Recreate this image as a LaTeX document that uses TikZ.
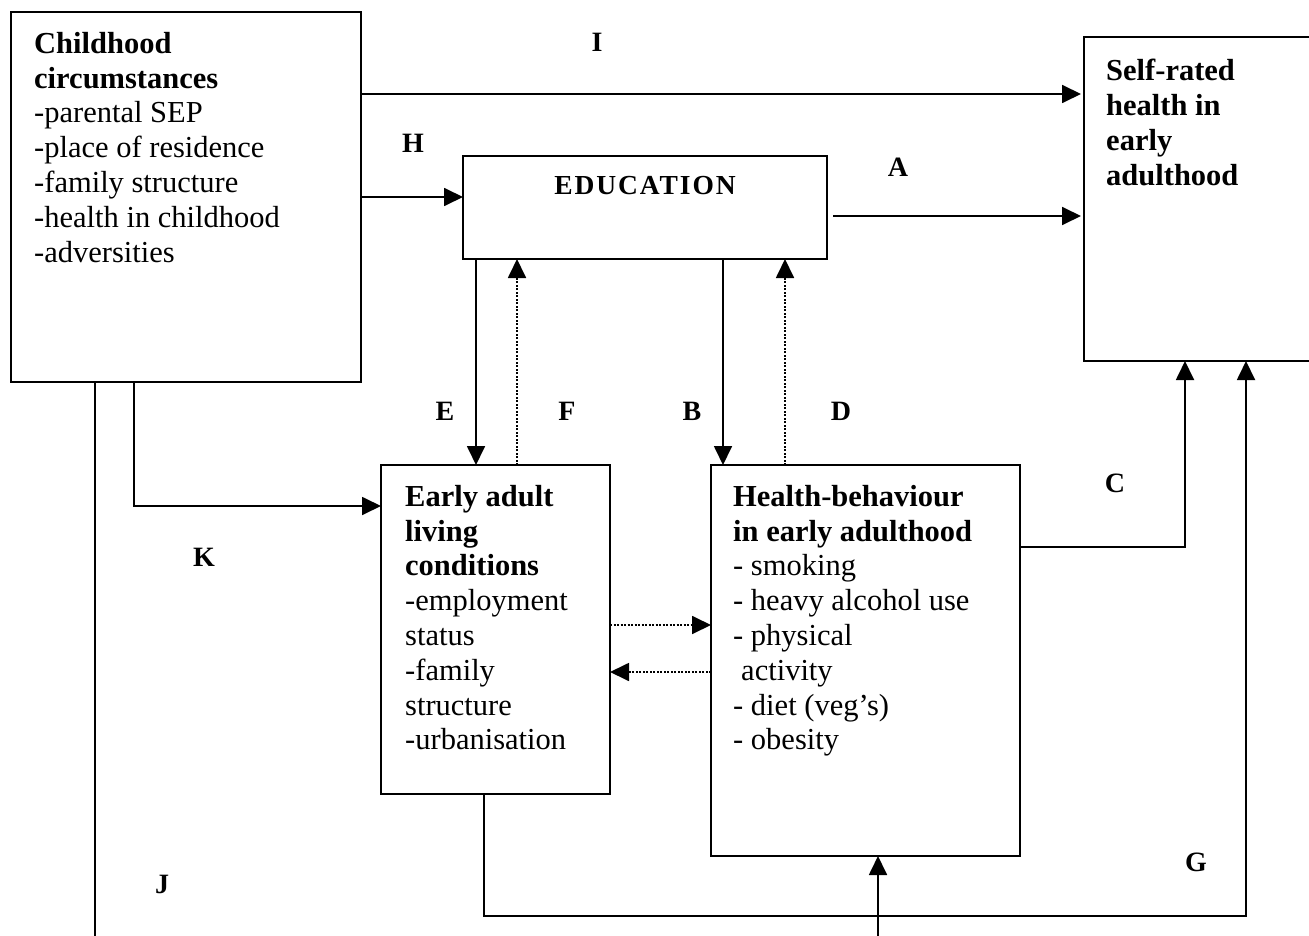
\documentclass[tikz,border=0pt]{standalone}
\usepackage{fontspec}
\setmainfont{Liberation Serif}
\newfontfamily\edufont{Liberation Serif}[LetterSpace=7]
\usetikzlibrary{arrows.meta}
\begin{document}
\begin{tikzpicture}[x=1pt,y=-1pt,
  every node/.style={font=\fontsize{30.5}{34.8}\selectfont},
  box/.style={draw, line width=1.8pt, anchor=north west, inner sep=0pt, outer sep=0pt},
  txt/.style={anchor=north west, align=left, inner sep=0pt},
  lbl/.style={inner sep=0pt, font=\fontsize{28}{30}\selectfont\bfseries},
  arr/.style={line width=1.8pt, -{Triangle[length=19pt,width=18pt]}},
  dotarr/.style={line width=1.8pt, dash pattern=on 2pt off 1.5pt, -{Triangle[length=19pt,width=18pt]}},
  plain/.style={line width=1.8pt}]
\useasboundingbox (0,0) rectangle (1309,936);
\fill[white] (0,0) rectangle (1309,936);
% boxes
\node[box, minimum width=350pt, minimum height=370pt] (child) at (11,12) {};
\node[box, minimum width=364pt, minimum height=103pt] (edu) at (463,156) {};
\node[box, minimum width=240pt, minimum height=324pt] (self) at (1084,37) {};
\node[box, minimum width=229pt, minimum height=329pt] (early) at (381,465) {};
\node[box, minimum width=309pt, minimum height=391pt] (health) at (711,465) {};
% texts
\node[txt] (childtxt) at (34,32) {\textbf{Childhood}\\\textbf{circumstances}\\-parental SEP\\-place of residence\\-family structure\\-health in childhood\\-adversities};
\node[inner sep=0pt, font=\fontsize{27.5}{30}\selectfont\bfseries\edufont] (edutxt) at (645,186) {EDUCATION};
\node[txt] (selftxt) at (1106,59) {\textbf{Self-rated}\\\textbf{health in}\\\textbf{early}\\\textbf{adulthood}};
\node[txt] (earlytxt) at (405,485) {\textbf{Early adult}\\\textbf{living}\\\textbf{conditions}\\-employment\\status\\-family\\structure\\-urbanisation};
\node[txt] (healthtxt) at (733,485) {\textbf{Health-behaviour}\\\textbf{in early adulthood}\\- smoking\\- heavy alcohol use\\- physical\\\hspace*{8pt}activity\\- diet (veg's)\\- obesity};
% labels
\node[lbl] (lI) at (597,42) {I};
\node[lbl] (lH) at (413,143) {H};
\node[lbl] (lA) at (898,167) {A};
\node[lbl] (lE) at (445,411) {E};
\node[lbl] (lF) at (567,411) {F};
\node[lbl] (lB) at (692,411) {B};
\node[lbl] (lD) at (841,411) {D};
\node[lbl] (lC) at (1115,483) {C};
\node[lbl] (lK) at (204,557) {K};
\node[lbl] (lJ) at (162,884) {J};
\node[lbl] (lG) at (1196,862) {G};
% helper coordinates
\coordinate (yI) at (0,94);
\coordinate (yH) at (0,197);
\coordinate (yA) at (833,216);
\coordinate (xE) at (476,0);
\coordinate (xF) at (517,0);
\coordinate (xB) at (723,0);
\coordinate (xD) at (785,0);
\coordinate (pK) at (134,506);
\coordinate (pC) at (1185,547);
\coordinate (pG) at (484,916);
\coordinate (qG) at (1246,916);
\coordinate (pJ) at (95,960);
\coordinate (qJ) at (878,960);
\coordinate (y1) at (0,625);
\coordinate (y2) at (0,672);
% connectors
\draw[arr] (child.east |- yI) -- ([xshift=-3pt]self.west |- yI);
\draw[arr] (child.east |- yH) -- (edu.west |- yH);
\draw[arr] (yA) -- ([xshift=-3pt]self.west |- yA);
\draw[arr] (edu.south -| xE) -- (early.north -| xE);
\draw[dotarr] (early.north -| xF) -- (edu.south -| xF);
\draw[arr] (edu.south -| xB) -- (health.north -| xB);
\draw[dotarr] (health.north -| xD) -- (edu.south -| xD);
\draw[arr] (child.south -| pK) -- (pK) -- (early.west |- pK);
\draw[arr] (health.east |- pC) -- (pC) -- (self.south -| pC);
\draw[arr] (early.south -| pG) -- (pG) -- (qG) -- (self.south -| qG);
\draw[arr] (child.south -| pJ) -- (pJ) -- (qJ) -- (health.south -| qJ);
\draw[dotarr] (early.east |- y1) -- (health.west |- y1);
\draw[dotarr] (health.west |- y2) -- (early.east |- y2);
\end{tikzpicture}
\end{document}
